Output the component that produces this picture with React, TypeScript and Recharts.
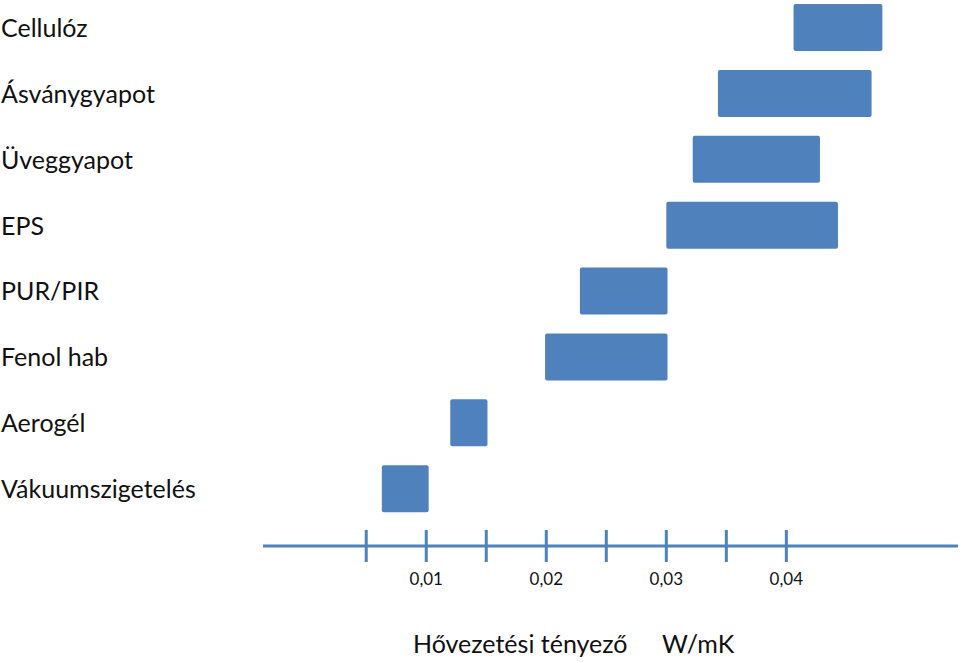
import { BarChart, Bar, XAxis, YAxis } from 'recharts';

const materials = ['Cellulóz', 'Ásványgyapot', 'Üveggyapot', 'EPS', 'PUR/PIR', 'Fenol hab', 'Aerogél', 'Vákuumszigetelés'];
const lowValues = [0.0406, 0.0343, 0.0322, 0.03, 0.0228, 0.0199, 0.012, 0.0063];
const highValues = [0.048, 0.0471, 0.0428, 0.0443, 0.0301, 0.0301, 0.0151, 0.0102];
const axisTicks = [0.005, 0.01, 0.015, 0.02, 0.025, 0.03, 0.035, 0.04];
const labeledTicks = [0.01, 0.02, 0.03, 0.04];

const chartData = materials.map((name, i) => ({
  name,
  range: [lowValues[i], highValues[i]],
}));

const BLUE = '#4f81bd';
const FONT = 'Lato, Calibri, "Noto Sans", sans-serif';

function MaterialTick({ y, payload }: any) {
  return (
    <text x={1} y={y} dy={9} textAnchor="start" fontSize={25} fill="#111" fontFamily={FONT}>
      {payload.value}
    </text>
  );
}

function ValueTick({ x, y, payload }: any) {
  const v = payload.value as number;
  const hasLabel = labeledTicks.some(t => Math.abs(t - v) < 1e-9);
  return (
    <g>
      <line x1={x} x2={x} y1={y - 16} y2={y + 16} stroke={BLUE} strokeWidth={3} />
      {hasLabel && (
        <text x={x} y={y + 39} textAnchor="middle" fontSize={17} fill="#111" fontFamily={FONT}>
          {v.toFixed(2).replace('.', ',')}
        </text>
      )}
    </g>
  );
}

function AxisTitle() {
  return (
    <g fontFamily={FONT} fontSize={25} fill="#111">
      <text x={413} y={653}>Hővezetési tényező</text>
      <text x={662} y={653}>W/mK</text>
    </g>
  );
}

export default function App() {
  return (
    <div style={{ position: 'absolute', left: 0, top: 0, background: '#fff' }}>
      <BarChart
        width={960}
        height={662}
        layout="vertical"
        data={chartData}
        margin={{ top: -5, right: 2, left: 0, bottom: 0 }}
      >
        <XAxis
          type="number"
          domain={[-0.0036, 0.0543]}
          ticks={axisTicks}
          allowDataOverflow
          height={116}
          tickSize={0}
          tickMargin={0}
          tickLine={false}
          axisLine={{ stroke: BLUE, strokeWidth: 3 }}
          tick={<ValueTick />}
          label={<AxisTitle />}
        />
        <YAxis
          type="category"
          dataKey="name"
          width={263}
          padding={{ top: 0, bottom: 24 }}
          axisLine={false}
          tickLine={false}
          tick={<MaterialTick />}
          interval={0}
        />
        <Bar dataKey="range" fill={BLUE} barSize={47} radius={2} isAnimationActive={false} />
      </BarChart>
    </div>
  );
}
